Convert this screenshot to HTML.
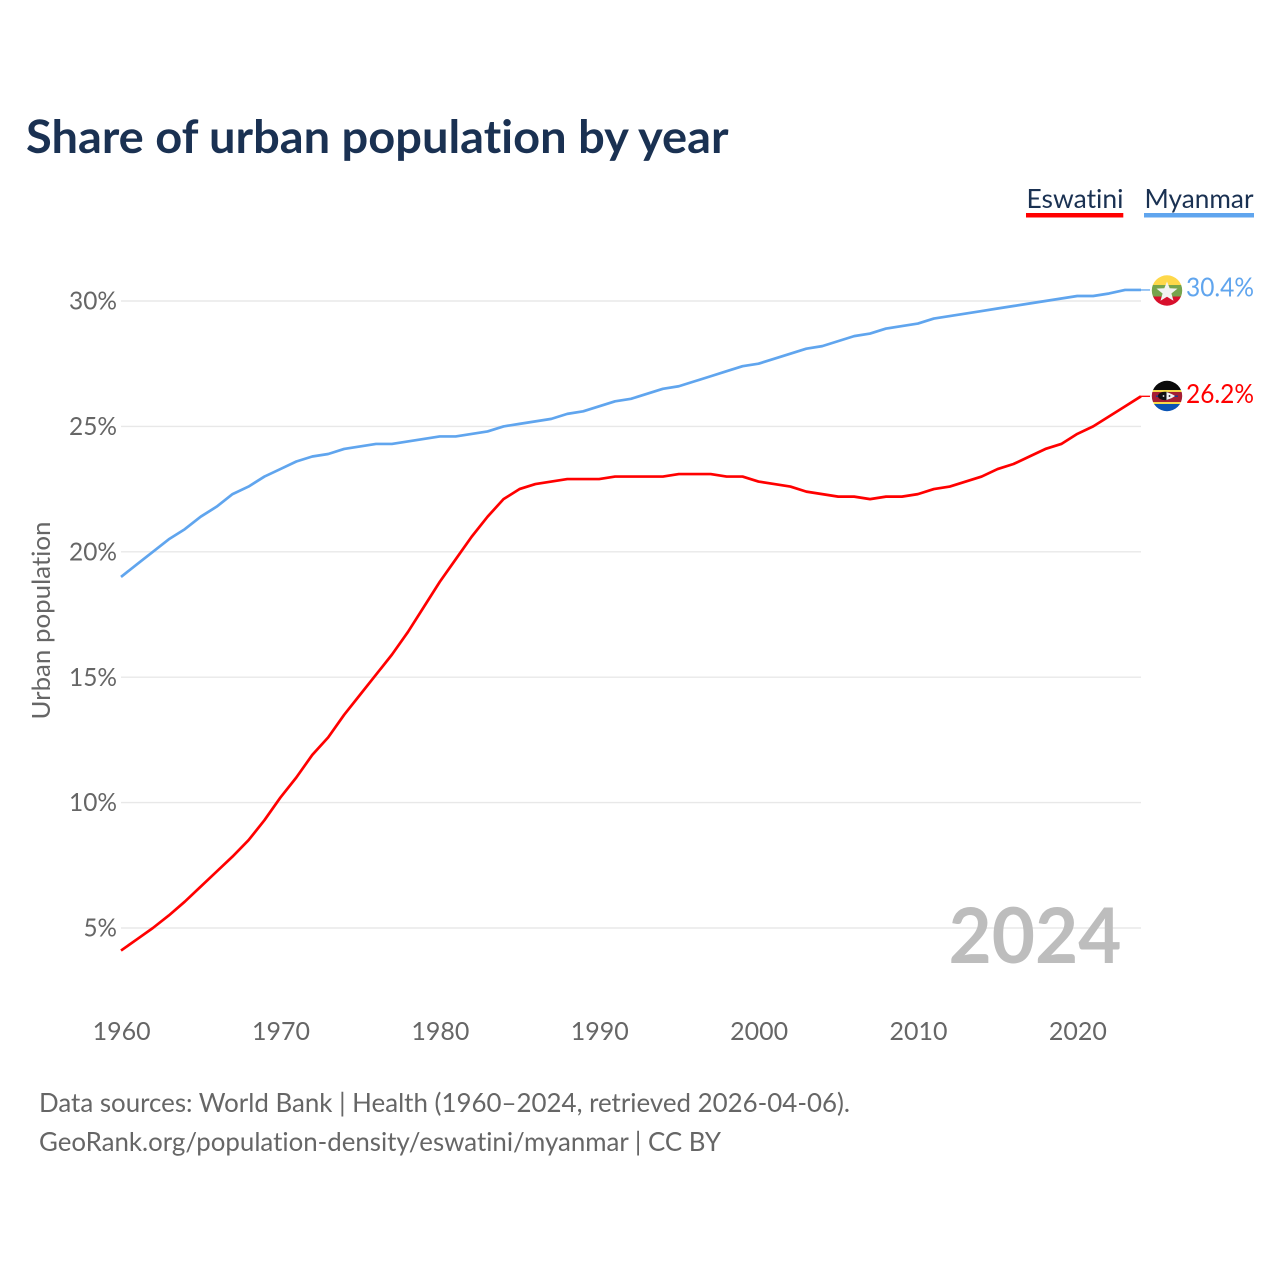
<!DOCTYPE html>
<html lang="en">
<head>
<meta charset="utf-8">
<title>Share of urban population by year</title>
<style>
html,body{margin:0;padding:0;background:#fff;width:1280px;height:1280px;overflow:hidden}
svg{display:block}
text{font-family:"Lato","Carlito","Liberation Sans",sans-serif;font-variant-ligatures:none;font-feature-settings:"liga" 0,"clig" 0}
</style>
</head>
<body>
<svg id="chart" xmlns="http://www.w3.org/2000/svg" width="1280" height="1280" viewBox="0 0 1280 1280">
  <defs>
    <clipPath id="flag-clip-mm"><circle cx="1167" cy="290.500" r="15.200"/></clipPath>
    <clipPath id="flag-clip-sz"><circle cx="1167" cy="396" r="15.200"/></clipPath>
  </defs>
  <text x="26" y="153" font-size="46" font-weight="700" fill="#1a3152" textLength="702.500" lengthAdjust="spacingAndGlyphs">Share of urban population by year</text>

  <g>
    <g>
      <text x="1026.500" y="208" font-size="26.500" fill="#1a3152" textLength="97" lengthAdjust="spacingAndGlyphs">Eswatini</text>
      <rect x="1026" y="213" width="97.300" height="4.500" fill="#ff0000"/>
    </g>
    <g>
      <text x="1144.500" y="208" font-size="26.500" fill="#1a3152" textLength="109" lengthAdjust="spacingAndGlyphs">Myanmar</text>
      <rect x="1144" y="213" width="110" height="4.500" fill="#60a5ee"/>
    </g>
  </g>

  <g id="grid"></g>
  <g id="yticks"></g>
  <g id="xticks"></g>

  <text transform="translate(50,620.500) rotate(-90)" text-anchor="middle" font-size="25.500" fill="#666666" textLength="198" lengthAdjust="spacingAndGlyphs">Urban population</text>

  <text x="1121.500" y="963" text-anchor="end" font-size="77" font-weight="700" fill="#bdbdbd" textLength="173" lengthAdjust="spacingAndGlyphs">2024</text>

  <g id="series"></g>

  <g clip-path="url(#flag-clip-mm)">
    <rect x="1151" y="275" width="32" height="10" fill="#fed84a"/>
    <rect x="1151" y="285" width="32" height="11.500" fill="#76a44c"/>
    <rect x="1151" y="296.500" width="32" height="10" fill="#d8102c"/>
    <polygon points="1167,281.500 1169.700,288.200 1177.500,288.600 1171.400,293.500 1173.500,300.800 1167,296.800 1160.500,300.800 1162.600,293.500 1156.500,288.600 1164.300,288.200" fill="#f2f2f2"/>
  </g>
  <g clip-path="url(#flag-clip-sz)">
    <rect x="1151" y="380" width="32" height="10" fill="#0a0a0a"/>
    <rect x="1151" y="390" width="32" height="2" fill="#f5d94a"/>
    <rect x="1151" y="392" width="32" height="10" fill="#a51f33"/>
    <rect x="1151" y="402" width="32" height="2" fill="#f5d94a"/>
    <rect x="1151" y="404" width="32" height="9" fill="#0a54b4"/>
    <rect x="1156" y="395.500" width="22" height="1.500" fill="#1d3a8a"/>
    <ellipse cx="1165" cy="396" rx="7" ry="4.200" fill="#111111"/>
    <path d="M1166.500 392 C1170 393 1173 394.500 1175 396 C1173 397.500 1170 399 1166.500 400 Z" fill="#f2f2f2"/>
    <circle cx="1163.500" cy="396" r="0.900" fill="#f2f2f2"/>
    <circle cx="1169.500" cy="396" r="0.900" fill="#111111"/>
  </g>

  <text id="value-myanmar" x="1254" y="296.600" text-anchor="end" font-size="26.500" fill="#60a5ee" textLength="68" lengthAdjust="spacingAndGlyphs"></text>
  <text id="value-eswatini" x="1254" y="403.200" text-anchor="end" font-size="26.500" fill="#ff0000" textLength="68" lengthAdjust="spacingAndGlyphs"></text>

  <g>
    <text x="39" y="1112" font-size="26" fill="#666666" textLength="811" lengthAdjust="spacingAndGlyphs">Data sources: World Bank | Health (1960–2024, retrieved 2026-04-06).</text>
    <text x="39" y="1151" font-size="26" fill="#666666" textLength="682" lengthAdjust="spacingAndGlyphs">GeoRank.org/population-density/eswatini/myanmar | CC BY</text>
  </g>
</svg>
<script>
const startYear = 1960;
const endYear = 2024;
const xTickYears = [1960, 1970, 1980, 1990, 2000, 2010, 2020];
const yTickValues = [5, 10, 15, 20, 25, 30];
const eswatiniValues = [
  4.1, 4.55, 5.0, 5.5, 6.05, 6.65, 7.25, 7.85, 8.5, 9.3,
  10.2, 11.0, 11.9, 12.6, 13.5, 14.3, 15.1, 15.9, 16.8, 17.8,
  18.8, 19.7, 20.6, 21.4, 22.1, 22.5, 22.7, 22.8, 22.9, 22.9,
  22.9, 23.0, 23.0, 23.0, 23.0, 23.1, 23.1, 23.1, 23.0, 23.0,
  22.8, 22.7, 22.6, 22.4, 22.3, 22.2, 22.2, 22.1, 22.2, 22.2,
  22.3, 22.5, 22.6, 22.8, 23.0, 23.3, 23.5, 23.8, 24.1, 24.3,
  24.7, 25.0, 25.4, 25.8, 26.2
];
const myanmarValues = [
  19.0, 19.5, 20.0, 20.5, 20.9, 21.4, 21.8, 22.3, 22.6, 23.0,
  23.3, 23.6, 23.8, 23.9, 24.1, 24.2, 24.3, 24.3, 24.4, 24.5,
  24.6, 24.6, 24.7, 24.8, 25.0, 25.1, 25.2, 25.3, 25.5, 25.6,
  25.8, 26.0, 26.1, 26.3, 26.5, 26.6, 26.8, 27.0, 27.2, 27.4,
  27.5, 27.7, 27.9, 28.1, 28.2, 28.4, 28.6, 28.7, 28.9, 29.0,
  29.1, 29.3, 29.4, 29.5, 29.6, 29.7, 29.8, 29.9, 30.0, 30.1,
  30.2, 30.2, 30.3, 30.44, 30.44
];

const NS = 'http://www.w3.org/2000/svg';
const plotLeft = 121;
const plotRight = 1141;
const stubEnd = 1150;

function xScale(year) {
  return plotLeft + (year - startYear) * (plotRight - plotLeft) / (endYear - startYear);
}
function yScale(value) {
  return 928 - (value - 5) * 25.08;
}
function make(tag, attrs, text) {
  const el = document.createElementNS(NS, tag);
  Object.keys(attrs).forEach(function (k) { el.setAttribute(k, attrs[k]); });
  if (text !== undefined) el.textContent = text;
  return el;
}

const grid = document.getElementById('grid');
const yticks = document.getElementById('yticks');
yTickValues.forEach(function (v) {
  const line = make('line', {x1: plotLeft, x2: plotRight, y1: yScale(v), y2: yScale(v), stroke: '#e8e8e8', 'stroke-width': 1.4});
  
  
  grid.appendChild(line);
  const label = make('text', {x: 117, y: yScale(v) + 8.6, 'text-anchor': 'end', 'font-size': 25, fill: '#666666', textLength: String(v).length * 14.5 + 19, lengthAdjust: 'spacingAndGlyphs'}, v + '%');
  
  
  yticks.appendChild(label);
});

const xticks = document.getElementById('xticks');
xTickYears.forEach(function (yr) {
  const label = make('text', {x: xScale(yr) + 0.6, y: 1040, 'text-anchor': 'middle', 'font-size': 25, fill: '#666666', textLength: 58, lengthAdjust: 'spacingAndGlyphs'}, String(yr));
  
  
  xticks.appendChild(label);
});

function drawSeries(values, color, name) {
  const pts = values.map(function (v, i) {
    return xScale(startYear + i).toFixed(2) + ',' + yScale(v).toFixed(2);
  });
  const line = make('polyline', {points: pts.join(' '), fill: 'none', stroke: color, 'stroke-width': 2.7, 'stroke-linejoin': 'round'});
  
  
  document.getElementById('series').appendChild(line);
  const lastY = yScale(values[values.length - 1]);
  const stub = make('line', {x1: plotRight, x2: stubEnd, y1: lastY, y2: lastY, stroke: color, 'stroke-width': 1.3});
  
  
  document.getElementById('series').appendChild(stub);
}
drawSeries(myanmarValues, '#60a5ee', 'line-myanmar');
drawSeries(eswatiniValues, '#ff0000', 'line-eswatini');

document.getElementById('value-myanmar').textContent = myanmarValues[myanmarValues.length - 1].toFixed(1) + '%';
document.getElementById('value-eswatini').textContent = eswatiniValues[eswatiniValues.length - 1].toFixed(1) + '%';
</script>
</body>
</html>
